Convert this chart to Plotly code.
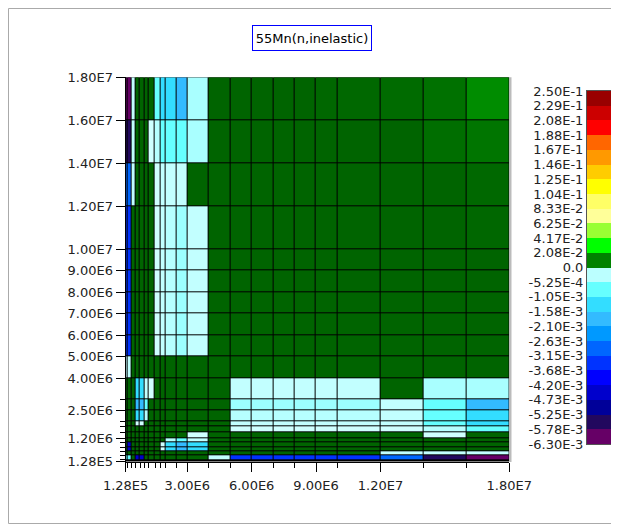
import plotly.graph_objects as go

W, H = 619, 531
OFF = 8  # page margin of the browser body

# group boundaries (eV)
edges = [1.28e5, 2e5, 4e5, 6e5, 8e5, 1e6, 1.2e6, 1.5e6, 1.75e6, 2e6, 2.5e6, 3e6,
         4e6, 5e6, 6e6, 7e6, 8e6, 9e6, 1e7, 1.2e7, 1.4e7, 1.6e7, 1.8e7]

# covariance values in units of 1e-4, rows = y groups (low -> high), cols = x groups
cov_e4 = [
 [ -2, -10,   0,   0,   0,   0,   0,   0,   0,   0,   0,   0,  -2, -34, -34, -34, -34, -34, -34, -27, -55, -60],
 [-10, -10,   0, -45, -45,   0,   0,   0,   0,   0,   0,   0,  -2, -34, -34, -34, -34, -34, -34, -27, -55, -60],
 [  0,   0,   0,   0,   0,   0,   0,   0,   0,   0,   0,   0,   0,   0,   0,   0,   0,   0,   0,  -2,  -2,  -2],
 [  0, -45,   0,   0,   0,   0,   0,   0,  -1, -13, -19, -12,   0,   0,   0,   0,   0,   0,   0,   0,   0,   0],
 [  0, -45,   0,   0,   0,   0,   0,   0,  -1, -13, -19, -12,   0,   0,   0,   0,   0,   0,   0,   0,   0,   0],
 [  0,   0,   0,   0,   0,   0,   0,   0,   0,  -3,  -6,  -2,   0,   0,   0,   0,   0,   0,   0,   0,   0,   0],
 [  0,   0,   0,   0,   0,   0,   0,   0,   0,   0,   0,  -1,   0,   0,   0,   0,   0,   0,   0,   0,  -1,   0],
 [  0,   0,   0,   0,   0,   0,   0,   0,   0,   0,   0,   0,   0,  -1,  -1,  -1,  -1,  -1,  -1,  -1,  -3,  -7],
 [  0,   0,   0,  -1,  -1,   0,   0,   0,   0,   0,   0,   0,   0,  -2,  -2,  -2,  -2,  -2,  -2,  -2,  -7, -11],
 [  0,   0,   0, -13, -13,  -3,   0,   0,   0,   0,   0,   0,   0,  -3,  -3,  -3,  -3,  -3,  -3,  -2,  -8, -14],
 [  0,   0,   0, -19, -19,  -6,   0,   0,   0,   0,   0,   0,   0,  -5,  -5,  -5,  -5,  -5,  -5,  -2, -10, -16],
 [  0,   0,   0, -12, -12,  -2,  -1,   0,   0,   0,   0,   0,   0,  -2,  -2,  -2,  -2,  -2,  -2,   0,  -4,  -4],
 [ -2,  -2,   0,   0,   0,   0,   0,   0,   0,   0,   0,   0,   0,   0,   0,   0,   0,   0,   0,   0,   0,   0],
 [-34, -34,   0,   0,   0,   0,   0,  -1,  -2,  -3,  -5,  -2,   0,   0,   0,   0,   0,   0,   0,   0,   0,   0],
 [-34, -34,   0,   0,   0,   0,   0,  -1,  -2,  -3,  -5,  -2,   0,   0,   0,   0,   0,   0,   0,   0,   0,   0],
 [-34, -34,   0,   0,   0,   0,   0,  -1,  -2,  -3,  -5,  -2,   0,   0,   0,   0,   0,   0,   0,   0,   0,   0],
 [-34, -34,   0,   0,   0,   0,   0,  -1,  -2,  -3,  -5,  -2,   0,   0,   0,   0,   0,   0,   0,   0,   0,   0],
 [-34, -34,   0,   0,   0,   0,   0,  -1,  -2,  -3,  -5,  -2,   0,   0,   0,   0,   0,   0,   0,   0,   0,   0],
 [-34, -34,   0,   0,   0,   0,   0,  -1,  -2,  -3,  -5,  -2,   0,   0,   0,   0,   0,   0,   0,   0,   0,  10],
 [-27, -27,  -2,   0,   0,   0,   0,  -1,  -2,  -2,  -2,   0,   0,   0,   0,   0,   0,   0,   0,   0,   0,  15],
 [-55, -55,  -2,   0,   0,   0,  -1,  -3,  -7,  -8, -10,  -4,   0,   0,   0,   0,   0,   0,   0,   0,  35,  60],
 [-60, -60,  -2,   0,   0,   0,   0,  -7, -11, -14, -16,  -4,   0,   0,   0,   0,   0,  10,  15,  25,  45, 140],
]

# colour-bar levels (bin edges, low -> high)
levels = [-6.30e-3, -5.78e-3, -5.25e-3, -4.73e-3, -4.20e-3, -3.68e-3, -3.15e-3, -2.63e-3,
          -2.10e-3, -1.58e-3, -1.05e-3, -5.25e-4, 0.0, 2.08e-2, 4.17e-2, 6.25e-2, 8.33e-2,
          1.04e-1, 1.25e-1, 1.46e-1, 1.67e-1, 1.88e-1, 2.08e-1, 2.29e-1, 2.50e-1]
level_text = ["-6.30E-3", "-5.78E-3", "-5.25E-3", "-4.73E-3", "-4.20E-3", "-3.68E-3", "-3.15E-3",
              "-2.63E-3", "-2.10E-3", "-1.58E-3", "-1.05E-3", "-5.25E-4", "0.0", "2.08E-2",
              "4.17E-2", "6.25E-2", "8.33E-2", "1.04E-1", "1.25E-1", "1.46E-1", "1.67E-1",
              "1.88E-1", "2.08E-1", "2.29E-1", "2.50E-1"]
bin_colors = ["#660066", "#22085e", "#000099", "#0000cc", "#0000ff", "#0033ff", "#0066ff",
              "#0099ff", "#33bbff", "#33ddff", "#66ffff", "#a6ffff",
              "#008a00", "#00ff00", "#99ff33", "#ffff99", "#ffff66", "#ffff00", "#ffcc00",
              "#ff9900", "#ff6600", "#ff0000", "#cc0000", "#990000"]

x_tick_vals = [1.28e5, 3e6, 6e6, 9e6, 1.2e7, 1.8e7]
x_tick_text = ["1.28E5", "3.00E6", "6.00E6", "9.00E6", "1.20E7", "1.80E7"]
y_tick_vals = [1.28e5, 1.2e6, 2.5e6, 4e6, 5e6, 6e6, 7e6, 8e6, 9e6, 1e7, 1.2e7, 1.4e7, 1.6e7, 1.8e7]
y_tick_text = ["1.28E5", "1.20E6", "2.50E6", "4.00E6", "5.00E6", "6.00E6", "7.00E6", "8.00E6",
               "9.00E6", "1.00E7", "1.20E7", "1.40E7", "1.60E7", "1.80E7"]

title_text = "55Mn(n,inelastic)"

nb = len(bin_colors)


def to_index(v):
    """map a value onto the equal-height colour-bar scale (0..24)"""
    for k in range(nb):
        lo, hi = levels[k], levels[k + 1]
        if v <= hi or k == nb - 1:
            t = (v - lo) / (hi - lo)
            return k + min(max(t, 0.0), 1.0)
    return float(nb)


# colourscale: constant bins, with shading inside the two bins around zero
cs = []
for k, c in enumerate(bin_colors):
    a, b = k / nb, (k + 1) / nb
    if k == 11:
        cs += [[a, "#99ffff"], [b - 1e-6, "#dcffff"]]
    elif k == 12:
        cs += [[a, "#006400"], [b - 1e-6, "#00a000"]]
    else:
        cs += [[a, c], [b - 1e-6, c]]
cs[-1][0] = 1.0

z_vals = [[v * 1e-4 for v in row] for row in cov_e4]
z_idx = [[to_index(v) for v in row] for row in z_vals]


def px(x):  # page pixel -> paper fraction (x)
    return (x - OFF) / W


def py(y):  # page pixel -> paper fraction (y)
    return 1 - (y - OFF) / H


font = dict(family="DejaVu Sans, sans-serif", size=13, color="#222222")

fig = go.Figure()
fig.add_trace(go.Heatmap(
    x=edges, y=edges, z=z_idx, customdata=z_vals,
    zmin=0, zmax=nb, colorscale=cs, showscale=False,
    xgap=1, ygap=1,
    hovertemplate="x=%{x}<br>y=%{y}<br>%{customdata:.3e}<extra></extra>",
))
# colour legend drawn as a one-column heatmap on its own axes
fig.add_trace(go.Heatmap(
    x=[0, 1], y=list(range(nb + 1)), z=[[k + 0.5] for k in range(nb)],
    zmin=0, zmax=nb, colorscale=cs, showscale=False,
    xaxis="x2", yaxis="y2", hoverinfo="skip",
))

x0, x1 = 125.6, 509.3
y0, y1 = 77.3, 461.5
fig.update_layout(
    width=W, height=H, margin=dict(l=0, r=0, t=0, b=0),
    paper_bgcolor="white", plot_bgcolor="black",
    font=font, showlegend=False,
    xaxis=dict(domain=[px(x0), px(x1)], range=[edges[0], edges[-1]],
               tickmode="array", tickvals=x_tick_vals, ticktext=x_tick_text,
               ticks="outside", ticklen=9, tickcolor="black", showgrid=False, zeroline=False,
               showline=True, linecolor="black", linewidth=1, ticklabelstandoff=3,
               minor=dict(tickmode="array", tickvals=edges, ticks="outside", ticklen=5,
                          tickcolor="black", showgrid=False),
               automargin=False, fixedrange=True),
    yaxis=dict(domain=[py(y1), py(y0)], range=[edges[0], edges[-1]],
               tickmode="array", tickvals=y_tick_vals, ticktext=y_tick_text,
               ticks="outside", ticklen=9, tickcolor="black", showgrid=False, zeroline=False,
               showline=True, linecolor="black", linewidth=1,
               minor=dict(tickmode="array", tickvals=edges, ticks="outside", ticklen=5,
                          tickcolor="black", showgrid=False),
               automargin=False, fixedrange=True),
    xaxis2=dict(domain=[px(587), px(613)], range=[0, 1], showticklabels=False, ticks="",
                showgrid=False, zeroline=False, showline=True, mirror=True,
                linecolor="#555555", anchor="y2", fixedrange=True),
    yaxis2=dict(domain=[py(444), py(91)], range=[0, nb], anchor="x2",
                tickmode="array", tickvals=list(range(nb + 1)), ticktext=level_text,
                ticks="", showgrid=False, zeroline=False, showline=True, mirror=True,
                linecolor="#555555", tickfont=dict(size=13, color="#222222"),
                fixedrange=True, automargin=False),
    annotations=[dict(text=title_text, xref="paper", yref="paper",
                      x=px(312), y=py(37.5), xanchor="center", yanchor="middle",
                      showarrow=False, width=112, height=18,
                      font=dict(size=13, color="black"),
                      bordercolor="#0000ff", borderwidth=1, borderpad=3,
                      bgcolor="white")],
    shapes=[dict(type="rect", xref="paper", yref="paper",
                 x0=px(8.5), x1=px(612.5), y0=py(523.5), y1=py(8.5),
                 line=dict(color="#aaaaaa", width=1)),
            dict(type="line", xref="paper", yref="paper",
                 x0=px(510.5), x1=px(510.5), y0=py(462), y1=py(77.3),
                 line=dict(color="#bbbbbb", width=2))],
)

fig.write_html("out.html")
